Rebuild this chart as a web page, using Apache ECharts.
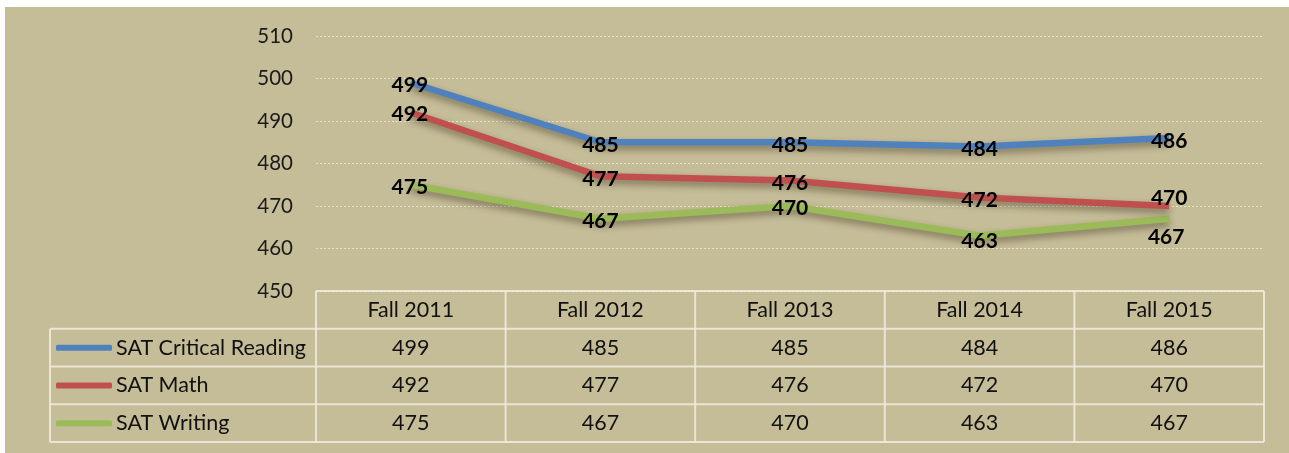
<!DOCTYPE html>
<html>
<head>
<meta charset="utf-8">
<script src="https://cdn.jsdelivr.net/npm/echarts@6/dist/echarts.min.js"></script>
<style>
  html, body { margin: 0; padding: 0; background: #fff; }
  #main { position: absolute; left: 5px; top: 7px; width: 1284px; height: 446px; background: #c5bc98; }
</style>
</head>
<body>
<div id="main"></div>
<script>
// data
const terms = ["Fall 2011", "Fall 2012", "Fall 2013", "Fall 2014", "Fall 2015"];
const reading = [499, 485, 485, 484, 486];
const math = [492, 477, 476, 472, 470];
const writing = [475, 467, 470, 463, 467];
const yTicks = [450, 460, 470, 480, 490, 500, 510];

const seriesNames = ["SAT Critical Reading", "SAT Math", "SAT Writing"];
const seriesData = [reading, math, writing];
const colors = ["#4f81bd", "#c0504d", "#9bbb59"];

const font = "Lato, 'Open Sans', sans-serif";

// layout of plot + table (px inside the chart div)
const W = 1284, H = 446;
const gLeft = 311, gRight = 25, gTop = 29, gBottom = 162;
const plotR = W - gRight, plotB = H - gBottom;
const rowH = 37.75;
const tableLeft = 45;
const lineCol = "rgba(240,236,222,0.85)";

const chart = echarts.init(document.getElementById("main"));

function hline(x1, x2, y) {
  return { type: "line", silent: true, shape: { x1: x1, y1: y, x2: x2, y2: y }, style: { stroke: lineCol, lineWidth: 2 } };
}
function vline(x, y1, y2) {
  return { type: "line", silent: true, shape: { x1: x, y1: y1, x2: x, y2: y2 }, style: { stroke: lineCol, lineWidth: 2 } };
}

const tableBottom = plotB + rowH * 4;
const colW = (plotR - gLeft) / terms.length;
const tableLines = [hline(gLeft, plotR, plotB)];
for (let r = 1; r <= 4; r++) tableLines.push(hline(tableLeft, plotR, plotB + rowH * r));
for (let c = 0; c <= terms.length; c++) tableLines.push(vline(gLeft + colW * c, plotB, tableBottom));
tableLines.push(vline(tableLeft, plotB + rowH, tableBottom));

// label offsets tweaks (where the original moved labels off the point)
const labelOffsets = [
  [[-1, 2], [0, 3], [0, 3], [0, 3], [0, 3]],
  [[-1, 2], [0, 3], [0, 3], [0, 3], [0, -8]],
  [[-1, 2], [0, 2], [0, 2], [0, 5], [-3, 18]]
];

chart.setOption({
  backgroundColor: "transparent",
  animation: false,
  grid: { left: gLeft, right: gRight, top: gTop, bottom: gBottom },
  legend: {
    orient: "vertical",
    left: 51,
    top: plotB + rowH + 7,
    padding: 0,
    itemWidth: 56,
    itemHeight: 6,
    itemGap: 13.75,
    icon: "roundRect",
    textStyle: { fontFamily: font, fontSize: 21.5, color: "#111", lineHeight: 24, padding: [0, 0, 0, -1] },
    data: seriesNames
  },
  xAxis: {
    type: "category",
    data: terms,
    boundaryGap: true,
    axisLine: { show: false },
    axisTick: { show: false },
    axisLabel: {
      margin: 0,
      interval: 0,
      formatter: function (v, i) {
        return [v, reading[i], math[i], writing[i]].map(t => "{c|" + t + "}").join("\n");
      },
      rich: { c: { fontFamily: font, fontSize: 21.5, color: "#111", lineHeight: rowH, height: rowH } }
    }
  },
  yAxis: {
    type: "value",
    min: yTicks[0],
    max: yTicks[yTicks.length - 1],
    interval: 10,
    axisLine: { show: false },
    axisTick: { show: false },
    axisLabel: { fontFamily: font, fontSize: 20.5, color: "#1a1a1a", margin: 23 },
    splitLine: { lineStyle: { color: "rgba(245,242,230,0.7)", type: [2, 2], width: 1 } }
  },
  series: seriesNames.map((name, s) => ({
    name: name,
    type: "line",
    data: seriesData[s].map((v, i) => ({ value: v, label: { offset: labelOffsets[s][i] } })),
    color: colors[s],
    symbol: "circle",
    symbolSize: 1,
    lineStyle: { width: 6.5, color: colors[s], shadowColor: "rgba(40,30,10,0.45)", shadowBlur: 7, shadowOffsetY: 4 },
    label: {
      show: true,
      position: "inside",
      fontFamily: font,
      fontWeight: "bold",
      fontSize: 21,
      color: "#000"
    },
    z: 3 - s
  })),
  graphic: tableLines
});
</script>
</body>
</html>
